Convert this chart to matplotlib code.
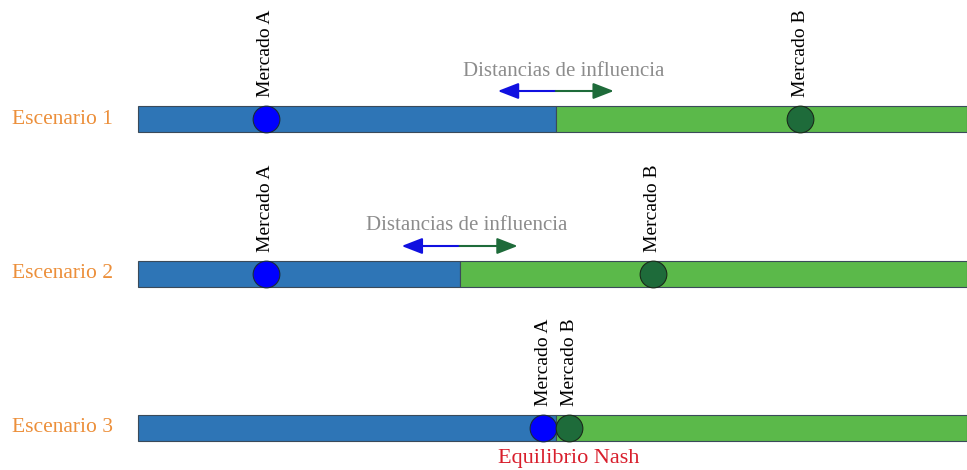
import matplotlib.pyplot as plt

# positions along the line (0 = left end, 100 = right end)
scenarios = ["Escenario 1", "Escenario 2", "Escenario 3"]
market_a = [15.4, 15.4, 48.9]
market_b = [79.9, 62.1, 52.0]
boundary = [50.4, 38.8, 50.4]
show_arrows = [True, True, False]

BLUE = "#2E75B6"
GREEN = "#5BB94A"
ORANGE = "#EC8F3A"
GRAY = "#8C8C8C"
RED = "#D81E2C"

plt.rcParams["font.family"] = ["Liberation Serif", "DejaVu Serif"]

fig = plt.figure(figsize=(9.67, 4.70), dpi=100)
ax = fig.add_axes([0, 0, 1, 1])
ax.set_xlim(-16.65, 100)
ax.set_ylim(470, 0)
ax.axis("off")

row_y = [119, 274, 428]
bar_h = 26
arrow_len = 7

for i, name in enumerate(scenarios):
    y = row_y[i]
    # influence zones
    ax.barh(y, boundary[i], left=0, height=bar_h, color=BLUE,
            edgecolor="#3a4a5a", linewidth=0.8)
    ax.barh(y, 100 - boundary[i], left=boundary[i], height=bar_h,
            color=GREEN, edgecolor="#3a4a5a", linewidth=0.8)

    ax.text(-15.2, y, name, color=ORANGE, fontsize=15.5,
            ha="left", va="center")

    # markets
    ax.scatter([market_a[i]], [y], s=370, color="#0000FF",
               edgecolor="#1a2a3a", linewidth=0.8, zorder=3)
    ax.scatter([market_b[i]], [y], s=370, color="#1E6B3A",
               edgecolor="#1a2a1a", linewidth=0.8, zorder=3)

    top = y - bar_h / 2
    ax.text(market_a[i], top - 9, "Mercado A", rotation=90, fontsize=14,
            ha="center", va="bottom")
    ax.text(market_b[i], top - 9, "Mercado B", rotation=90, fontsize=14,
            ha="center", va="bottom")

    if show_arrows[i]:
        ay = top - 15
        ax.annotate("", xy=(boundary[i] - arrow_len, ay), xytext=(boundary[i], ay),
                    arrowprops=dict(arrowstyle="-|>,head_length=0.9,head_width=0.35",
                                    color="#1010E0", lw=1.5,
                                    mutation_scale=14, shrinkA=0, shrinkB=0))
        ax.annotate("", xy=(boundary[i] + arrow_len, ay), xytext=(boundary[i], ay),
                    arrowprops=dict(arrowstyle="-|>,head_length=0.9,head_width=0.35",
                                    color="#1E6B3A", lw=1.5,
                                    mutation_scale=14, shrinkA=0, shrinkB=0))
        ax.text(boundary[i] + 0.9, top - 35, "Distancias de influencia",
                color=GRAY, fontsize=15, ha="center", va="center")

ax.text(market_b[2], 458, "Equilibrio Nash", color=RED,
        fontsize=16, ha="center", va="center")

fig.savefig("out.png", dpi=100)
